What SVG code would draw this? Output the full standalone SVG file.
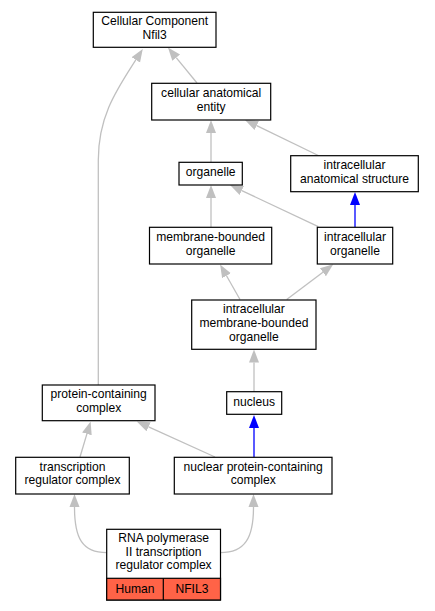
<svg xmlns="http://www.w3.org/2000/svg" width="435" height="611" viewBox="0 0 435 611">
<defs>
<style>
.n rect{fill:#fff;stroke:#000;stroke-width:1.2}
text{font-family:"Liberation Sans",Arial,sans-serif;font-size:12.1px;fill:#000;text-anchor:middle}
.e path{fill:none;stroke:#c0c0c0;stroke-width:1.3}
.e path.b{stroke:#0000ff}
</style>
<marker id="ag" markerUnits="userSpaceOnUse" markerWidth="14" markerHeight="12" refX="0" refY="5" orient="auto" viewBox="0 0 14 10"><path d="M0,0 L13,5 L0,10 Z" fill="#c0c0c0"/></marker>
<marker id="ab" markerUnits="userSpaceOnUse" markerWidth="14" markerHeight="12" refX="0" refY="5" orient="auto" viewBox="0 0 14 10"><path d="M0,0 L13,5 L0,10 Z" fill="#0000ff"/></marker>
</defs>
<rect width="435" height="611" fill="#fff"/>
<g id="edges" class="e">
<path d="M197,83 L176.2,57.6" marker-end="url(#ag)"/>
<path d="M98.3,385 L98.3,160 C98.3,115 118,88 135.8,59.9" marker-end="url(#ag)"/>
<path d="M211,162 L211,133" marker-end="url(#ag)"/>
<path d="M318.3,155.5 L256.7,125.6" marker-end="url(#ag)"/>
<path d="M211,227 L211,198" marker-end="url(#ag)"/>
<path d="M318.3,226.7 L241.8,190.6" marker-end="url(#ag)"/>
<path class="b" d="M355,227 L355,205" marker-end="url(#ab)"/>
<path d="M240,299.5 L226.5,275.7" marker-end="url(#ag)"/>
<path d="M286.7,299.5 L322.9,272.2" marker-end="url(#ag)"/>
<path d="M254,391.7 L254,362.5" marker-end="url(#ag)"/>
<path class="b" d="M254,457 L254,428" marker-end="url(#ab)"/>
<path d="M215,457 L148.6,426.8" marker-end="url(#ag)"/>
<path d="M80,457 L86.9,433.9" marker-end="url(#ag)"/>
<path d="M106.7,552.7 C82,552.7 74.5,538 74.5,507" marker-end="url(#ag)"/>
<path d="M220.5,552.7 C245,552.7 253.5,538 253.5,507" marker-end="url(#ag)"/>
</g>
<g id="n1" class="n"><rect x="93.3" y="12.3" width="122.7" height="35"/><text x="154.7" y="25.4">Cellular Component<tspan x="154.7" dy="13.6">Nfil3</tspan></text></g>
<g id="n2" class="n"><rect x="151.7" y="83.3" width="119" height="36.7"/><text x="211.2" y="97.2">cellular anatomical<tspan x="211.2" dy="13.6">entity</tspan></text></g>
<g id="n3" class="n"><rect x="179" y="162.3" width="63.3" height="22.7"/><text x="210.7" y="176.3">organelle</text></g>
<g id="n4" class="n"><rect x="290.7" y="155.7" width="127.6" height="36"/><text x="354.5" y="169.2">intracellular<tspan x="354.5" dy="13.6">anatomical structure</tspan></text></g>
<g id="n5" class="n"><rect x="149.5" y="227.3" width="122.2" height="36.7"/><text x="210.6" y="241.4">membrane-bounded<tspan x="210.6" dy="13.6">organelle</tspan></text></g>
<g id="n6" class="n"><rect x="317.3" y="227.3" width="75.4" height="36.7"/><text x="355" y="241.4">intracellular<tspan x="355" dy="13.6">organelle</tspan></text></g>
<g id="n7" class="n"><rect x="191.7" y="300" width="124.3" height="49.3"/><text x="253.9" y="313.4">intracellular<tspan x="253.9" dy="13.6">membrane-bounded</tspan><tspan x="253.9" dy="13.6">organelle</tspan></text></g>
<g id="n8" class="n"><rect x="226.7" y="391.7" width="55" height="22.6"/><text x="254.2" y="406">nucleus</text></g>
<g id="n9" class="n"><rect x="42.3" y="385" width="112.7" height="35.7"/><text x="98.7" y="398.2">protein-containing<tspan x="98.7" dy="13.6">complex</tspan></text></g>
<g id="n10" class="n"><rect x="15.7" y="457.3" width="113.6" height="36.7"/><text x="72.5" y="470.5">transcription<tspan x="72.5" dy="13.6">regulator complex</tspan></text></g>
<g id="n11" class="n"><rect x="174.3" y="457.3" width="157.7" height="36.7"/><text x="253.2" y="470.5">nuclear protein-containing<tspan x="253.2" dy="13.6">complex</tspan></text></g>
<g id="n12" class="n"><rect x="106.7" y="529.3" width="113.8" height="70.7"/><rect x="106.7" y="578.3" width="113.8" height="21.7" style="fill:#ff6347"/><path d="M163.3,578.3 V600" stroke="#000" stroke-width="1.2"/><text x="163.6" y="542.2">RNA polymerase<tspan x="163.6" dy="13.6">II transcription</tspan><tspan x="163.6" dy="13.6">regulator complex</tspan></text><text x="135" y="592.7">Human</text><text x="191.9" y="592.7">NFIL3</text></g>
</svg>
